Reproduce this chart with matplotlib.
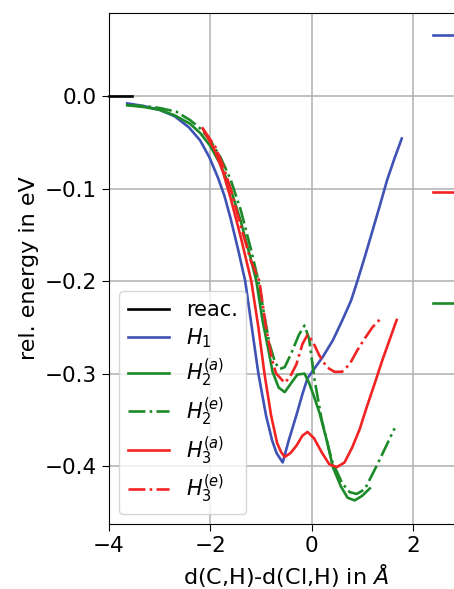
import matplotlib
matplotlib.use("Agg")
import matplotlib.pyplot as plt

# reactant level and product levels (short marks on the right)
reac_x = [-4.0, -3.55]
reac_y = [0.0, 0.0]
prod_x = [2.40, 3.0]
prod_h1 = 0.066
prod_h3 = -0.104
prod_h2 = -0.224

# H1
h1_x = [-3.64, -3.3, -3.0, -2.7, -2.42, -2.2, -2.02, -1.85, -1.72, -1.6, -1.45, -1.31,
        -1.18, -1.05, -0.9, -0.78, -0.69, -0.57, -0.45, -0.3, -0.18, -0.08, 0.05, 0.22,
        0.42, 0.61, 0.78, 0.91, 1.05, 1.19, 1.35, 1.49, 1.64, 1.78]
h1_y = [-0.008, -0.011, -0.015, -0.022, -0.034, -0.048, -0.066, -0.088, -0.108, -0.132, -0.166, -0.2,
        -0.25, -0.30, -0.345, -0.372, -0.386, -0.396, -0.372, -0.345, -0.322, -0.305, -0.295, -0.282,
        -0.264, -0.242, -0.221, -0.199, -0.174, -0.148, -0.118, -0.091, -0.067, -0.046]

# H2 (a)
h2a_x = [-3.64, -3.3, -3.0, -2.7, -2.4, -2.2, -2.0, -1.8, -1.6, -1.4, -1.22, -1.09,
         -0.97, -0.85, -0.77, -0.65, -0.53, -0.4, -0.28, -0.14, -0.05, 0.05, 0.16,
         0.3, 0.42, 0.58, 0.71, 0.85, 1.0, 1.15]
h2a_y = [-0.01, -0.012, -0.015, -0.021, -0.03, -0.04, -0.054, -0.074, -0.1, -0.135, -0.172, -0.2,
         -0.242, -0.275, -0.298, -0.315, -0.32, -0.31, -0.301, -0.30, -0.31, -0.325, -0.343,
         -0.372, -0.401, -0.422, -0.434, -0.437, -0.432, -0.424]

# H2 (e)
h2e_x = [-3.64, -3.3, -3.0, -2.67, -2.4, -2.2, -2.0, -1.8, -1.6, -1.4, -1.2, -1.05,
         -0.93, -0.83, -0.72, -0.63, -0.53, -0.4, -0.25, -0.14, -0.05, 0.06, 0.2,
         0.4, 0.6, 0.75, 0.89, 1.05, 1.3, 1.64]
h2e_y = [-0.01, -0.011, -0.013, -0.017, -0.026, -0.035, -0.048, -0.066, -0.09, -0.123, -0.165, -0.2,
         -0.238, -0.268, -0.288, -0.295, -0.293, -0.278, -0.258, -0.248, -0.262, -0.307, -0.35,
         -0.394, -0.418, -0.428, -0.43, -0.425, -0.398, -0.359]

# H3 (a)
h3a_x = [-2.15, -1.9, -1.75, -1.6, -1.4, -1.19, -1.05, -0.93, -0.8, -0.68, -0.6,
         -0.53, -0.42, -0.3, -0.18, -0.08, 0.05, 0.2, 0.35, 0.5, 0.65, 0.8, 0.95,
         1.09, 1.25, 1.4, 1.55, 1.68]
h3a_y = [-0.035, -0.06, -0.082, -0.11, -0.152, -0.2, -0.25, -0.30, -0.345, -0.375, -0.385,
         -0.39, -0.386, -0.378, -0.367, -0.363, -0.37, -0.385, -0.398, -0.401, -0.396, -0.38, -0.36,
         -0.336, -0.31, -0.285, -0.262, -0.242]

# H3 (e)
h3e_x = [-2.15, -1.9, -1.75, -1.6, -1.4, -1.2, -1.03, -0.9, -0.78, -0.7, -0.63,
         -0.53, -0.42, -0.3, -0.18, -0.08, 0.02, 0.15, 0.3, 0.45, 0.6, 0.75, 0.9,
         1.05, 1.2, 1.39]
h3e_y = [-0.035, -0.055, -0.075, -0.1, -0.14, -0.178, -0.2, -0.25, -0.285, -0.3, -0.304,
         -0.31, -0.303, -0.29, -0.268, -0.258, -0.265, -0.28, -0.293, -0.298, -0.298, -0.29, -0.275,
         -0.262, -0.25, -0.239]

c_blue = "#3f52b5"
c_green = "#1c8a28"
c_red = "#f22323"
lw = 1.9

fig = plt.figure(figsize=(4.54, 5.89), dpi=100)
ax = fig.add_axes([0.240, 0.110, 0.781, 0.868])

ax.plot(reac_x, reac_y, color="black", lw=lw, label="reac.", clip_on=False)
ax.plot(h1_x, h1_y, color=c_blue, lw=lw, label=r"$H_1$")
ax.plot(h2a_x, h2a_y, color=c_green, lw=lw, label=r"$H_2^{(a)}$")
ax.plot(h2e_x, h2e_y, color=c_green, lw=lw, ls="-.", label=r"$H_2^{(e)}$")
ax.plot(h3a_x, h3a_y, color=c_red, lw=lw, label=r"$H_3^{(a)}$")
ax.plot(h3e_x, h3e_y, color=c_red, lw=lw, ls="-.", label=r"$H_3^{(e)}$")

# product levels
ax.plot(prod_x, [prod_h1, prod_h1], color=c_blue, lw=lw)
ax.plot(prod_x, [prod_h3, prod_h3], color=c_red, lw=lw)
ax.plot(prod_x, [prod_h2, prod_h2], color=c_green, lw=lw)

ax.set_xlim(-4, 3)
ax.set_ylim(-0.4627, 0.0897)
ax.set_xticks([-4, -2, 0, 2])
ax.set_yticks([0.0, -0.1, -0.2, -0.3, -0.4])
ax.tick_params(labelsize=15.5, length=5)
ax.grid(True, color="#b0b0b0", lw=1.1)
ax.set_xlabel(r"d(C,H)-d(Cl,H) in $\AA$", fontsize=16)
ax.set_ylabel("rel. energy in eV", fontsize=16)
ax.legend(loc="lower left", fontsize=15, handlelength=2.0, labelspacing=0.3)

fig.savefig("out.png", dpi=100)
